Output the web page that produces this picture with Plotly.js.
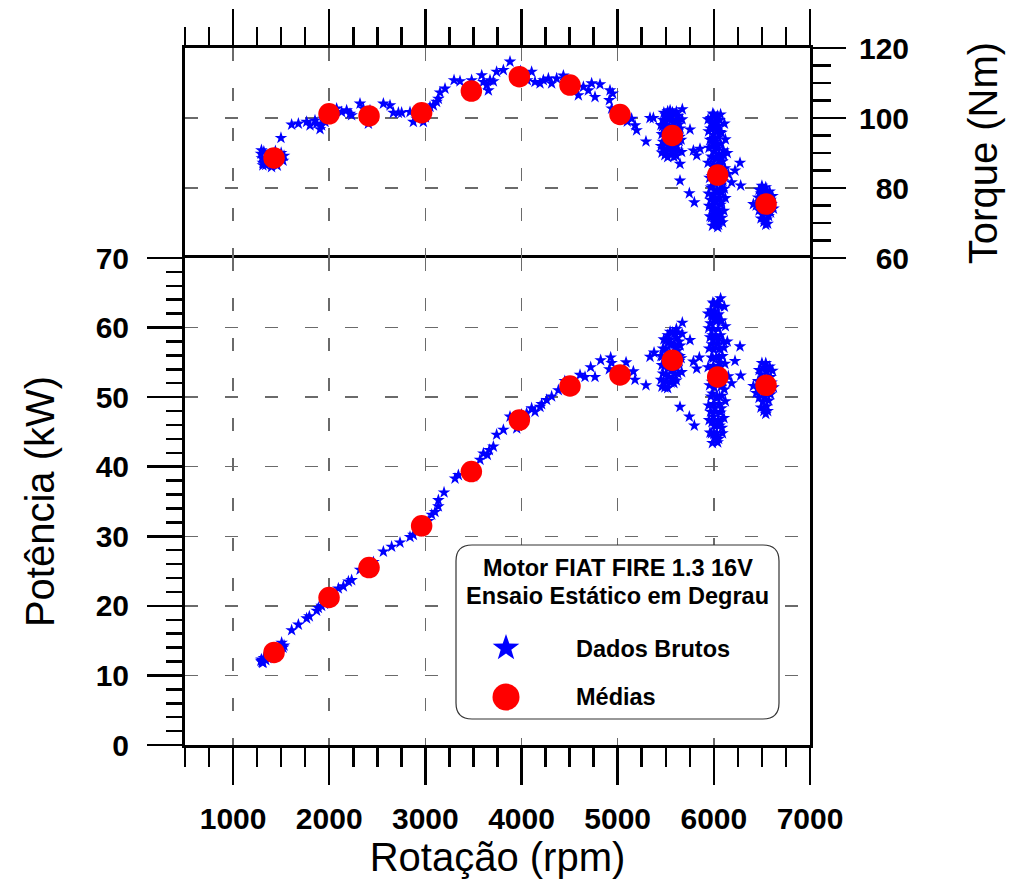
<!DOCTYPE html>
<html>
<head>
<meta charset="utf-8">
<script src="https://cdn.plot.ly/plotly-3.0.1.min.js"></script>
<style>html,body{margin:0;padding:0;background:#fff;}#chart{width:1013px;height:884px;}</style>
</head>
<body>
<div id="chart"></div>
<script>
// ---------- DATA ----------
// Raw torque samples (rpm, Nm) outside the dense high-rpm blocks
const rpmCurveT = [1290,1300,1310,1320,1340,1360,1380,1400,1420,1440,1460,1480,1500,1520,1530,1310,1295,
  1498,1609,1679,1765,1800,1852,1869,1904,1921,1956,1939,1980,2020,2077,2129,2181,2216,2233,2320,2355,2407,2424,2450,
  2563,2632,2667,2719,2753,2840,2875,2909,2940,2979,3000,3048,3083,3117,3135,3152,3204,3298,3360,3440,3481,3520,
  3586,3603,3638,3655,3672,3707,3741,3811,3880,3967,3990,4020,4060,4105,4140,4192,4227,4279,4313,4365,4435,4480,
  4530,4591,4643,4695,4729,4764,4816,4920,4948,4913,4937,4990,5060,5100,5145,5180,5197,5294,5336,5371,
  5672,5752,5648,5648,5745,5797,5787,5856,5822,6140,6220,6272,6185,6279,6150,6411];
const torqueCurve = [89.8,88.5,87.2,90.4,86.6,88.0,89.5,86.0,87.5,90.5,86.4,88.9,90.0,87.8,89.2,86.5,90.8,
  94.3,98.1,98.4,98.9,97.9,99.3,98.4,96.8,97.9,98.9,99.8,100.5,101.5,102.7,101.7,102.2,101.2,100.8,104.1,102.7,98.4,102.2,100.2,
  104.1,103.6,101.5,101.5,101.5,101.7,98.9,99.8,101.0,98.9,100.2,103.2,103.6,104.6,105.5,107.3,108.4,110.8,110.5,108.5,110.8,106.8,
  112.2,110.3,109.4,107.9,110.8,110.5,113.2,113.7,116.1,111.8,113.4,112.0,110.8,113.2,110.3,109.9,110.8,111.3,109.9,111.3,112.1,110.2,
  108.6,106.5,108.9,107.9,109.9,106.0,109.6,107.9,107.0,105.1,102.7,100.2,100.5,99.0,99.8,97.9,96.5,93.3,100.0,100.0,
  102.5,96.7,86.9,82.1,78.5,75.9,90.7,91.2,89.3,90.0,85.0,87.2,81.6,80.7,84.0,75.4];

// Raw power samples (rpm, kW) outside the dense high-rpm blocks
const rpmCurveP = [1290,1300,1310,1320,1340,1360,1380,1400,1420,1440,1460,1480,1500,1520,1530,1310,1295,
  1505,1609,1679,1765,1793,1869,1887,1921,1950,2040,2095,2147,2199,2233,2320,2380,2460,2563,2649,2736,2840,2875,2920,2990,
  3030,3066,3100,3135,3135,3194,3308,3343,3440,3500,3568,3603,3644,3665,3707,3741,3811,3880,3950,4000,
  4053,4105,4140,4192,4209,4261,4313,4383,4450,4530,4608,4660,4719,4764,4823,4927,4937,4913,4990,5087,5060,5163,5180,5294,5336,5378,
  5672,5752,5787,5822,5849,5648,5745,5797,6140,6272,6220,6279,6185,6150,6411];
const powerCurve = [12.1,11.9,11.8,12.5,12.2,12.5,12.9,12.6,13.0,13.6,13.2,13.8,14.1,14.0,14.3,11.9,12.3,
  14.7,16.5,17.3,18.2,18.5,19.3,19.7,20.0,20.3,21.6,22.5,22.8,23.5,23.7,25.2,25.0,26.3,27.8,28.5,29.1,29.9,30.2,30.7,31.0,
  32.2,33.1,33.5,34.3,35.2,36.3,38.3,38.8,39.5,38.6,41.0,41.9,41.7,42.4,42.9,44.6,45.3,47.2,45.5,47.5,
  47.7,48.4,47.9,48.6,49.0,49.6,50.1,51.0,52.3,51.5,53.2,52.9,54.3,52.9,55.3,55.7,54.9,54.0,52.8,55.0,53.0,53.7,52.5,51.7,55.8,56.4,
  60.7,58.2,55.1,54.1,55.7,48.6,47.2,45.9,58.0,57.3,55.2,53.1,52.0,53.0,51.6];

// Dense blocks of samples at ~5550, ~6030 and ~6530 rpm (rpm, Nm, kW)
const rpmBlock = [5480,5500,5520,5545,5570,5590,5610,5630,5470,5495,5525,5555,5585,5615,5640,
  5465,5490,5515,5540,5575,5600,5625,5650,5460,5485,5510,5535,5565,5595,5620,5645,
  5470,5500,5530,5560,5590,5615,5640,5475,5505,5535,5565,5595,5625,5490,5520,5555,5585,5610,5460,
  5450,5670,5660,5450,5665,5540,5580,
  5990,6040,5970,6060,6010,5985,6050,5965,6030,6080,5995,6045,5960,6015,6070,5980,6035,6000,6055,5975,
  6025,6090,5995,6045,6010,6065,5980,6040,6005,6075,5970,6030,6085,5995,6050,5965,6020,6070,5990,6045,
  6005,6060,5975,6030,6010,6050,5985,
  6025,5975,6005,6065,5985,6040,6100,5990,6060,6020,6095,5985,6060,6010,6080,5980,6035,6085,6015,
  5940,6110,5945,6120,5950,6105,5940,6115,5955,6110,5945,6120,5950,6105,5960,6090,6040,
  6000,6070,6030,5990,6055,6000,6035,5995,6065,6000,
  6500,6540,6470,6520,6580,6490,6550,6610,6460,6530,6590,6480,6545,6600,6500,6560,6620,6470,6530,6590,
  6510,6570,6490,6550,6520,6560,6540,6440];
const torqueBlock = [101.5,100.8,101.9,102.2,101.6,100.9,101.8,100.6,99.5,98.8,99.9,99.2,98.5,99.4,98.2,
  97.6,96.9,97.8,97.1,96.5,97.4,96.2,97.0,95.4,94.7,95.8,94.9,95.6,94.3,95.1,94.6,
  93.2,92.6,93.5,92.4,93.0,92.2,93.4,91.1,90.5,91.3,90.2,91.0,90.6,89.4,88.8,89.6,88.9,89.2,90.1,
  98.0,99.6,93.8,92.0,90.3,100.3,94.0,
  101.3,100.6,100.0,99.4,99.0,98.2,97.7,97.0,96.4,95.8,95.2,94.5,93.8,93.2,92.6,91.9,91.2,90.4,89.7,89.0,
  88.3,87.6,86.8,86.0,85.1,84.3,83.4,82.6,81.7,80.9,80.1,79.4,78.7,78.0,77.3,76.6,75.9,75.2,74.5,73.8,
  73.0,72.3,71.6,70.9,70.1,69.5,69.2,
  100.2,98.8,97.3,96.0,94.0,92.0,90.8,88.6,86.5,83.9,82.0,80.5,79.0,76.9,76.0,74.0,72.8,71.5,70.5,
  99.6,98.4,96.2,93.9,91.5,89.3,87.2,85.6,82.9,79.8,78.4,77.1,74.9,73.5,71.9,70.2,68.8,
  100.9,101.0,97.6,92.7,88.0,85.9,79.0,75.2,73.0,71.1,
  80.6,80.2,79.5,79.3,79.0,78.4,78.1,77.7,77.3,77.0,76.6,76.0,75.8,75.4,74.7,74.4,74.1,73.6,73.3,73.0,
  72.3,72.0,71.3,71.0,70.3,69.8,69.5,75.0];
const powerBlock = [58.3,58.1,58.9,59.4,59.3,59.1,59.8,59.3,57.0,56.9,57.8,57.7,57.6,58.5,58.0,
  55.9,55.7,56.5,56.3,56.3,57.1,56.7,57.4,54.6,54.4,55.3,55.0,55.7,55.3,56.0,55.9,
  53.4,53.3,54.2,53.8,54.4,54.2,55.2,52.2,52.2,52.9,52.6,53.3,53.4,51.4,51.3,52.1,52.0,52.4,51.5,
  55.9,59.1,55.6,52.5,53.6,58.2,54.9,
  63.6,63.6,62.5,63.1,62.3,61.6,61.9,60.6,60.9,61.0,59.8,59.8,58.6,58.7,58.9,57.6,57.6,56.8,56.9,55.7,
  55.7,55.9,54.5,54.4,53.6,53.5,52.2,52.3,51.4,51.5,50.1,50.1,50.2,49.0,49.0,47.9,47.9,47.8,46.7,46.7,
  45.9,45.9,44.8,44.8,44.1,44.0,43.4,
  63.2,61.8,61.2,61.0,58.9,58.2,58.0,55.6,54.9,52.9,52.3,50.5,50.1,48.4,48.4,46.4,46.0,45.6,44.4,
  62.0,63.0,59.9,60.2,57.0,57.1,54.3,54.8,51.7,51.1,48.8,49.4,46.7,47.0,44.9,44.8,43.5,
  63.4,64.2,61.6,58.2,55.8,54.0,49.9,47.2,46.4,44.7,
  54.9,54.9,53.9,54.2,54.4,53.3,53.6,53.8,52.3,52.7,52.9,51.6,52.0,52.1,50.9,51.1,51.4,49.9,50.1,50.4,
  49.3,49.5,48.5,48.7,48.0,48.0,47.6,50.6];

// Step means (red circles)
const meanRpm    = [1426,1998,2414,2961,3478,3977,4504,5024,5568,6040,6543];
const meanTorque = [88.6,101.2,100.6,101.5,107.7,111.8,109.4,101.0,95.0,83.7,75.4];
const meanPower  = [13.3,21.2,25.5,31.5,39.3,46.7,51.6,53.2,55.3,52.9,51.7];

const xTicks = [1000,2000,3000,4000,5000,6000,7000];
const torqueTicks = [60,80,100,120];
const legendTitle = ['Motor FIAT FIRE 1.3 16V','Ensaio Estático em Degrau'];
const legendLabels = ['Dados Brutos','Médias'];

// ---------- LAYOUT ----------
const W = 1013, H = 884, PL = 185, PR = 810, PT = 48, PB = 745, SPLIT = 258;
const px = v => (v - PL) / (PR - PL);
const py = v => (PB - v) / (PB - PT);
const split = py(SPLIT);

const FONT = 'Liberation Sans, Arial, Helvetica, sans-serif';
const tickFont = {family: FONT, size: 30, color: '#000', weight: 700};
const titleFont = {family: FONT, size: 40, color: '#000'};
const gridStyle = {showgrid: true, gridcolor: '#6a6a6a', gridwidth: 1.5, griddash: '13px,27px'};

const blue = '#0000FF', red = '#FF0000';

// right-axis labels are right-aligned in the reference: pad short ones with a figure space
const padLabel = (v, n) => { let s = String(v); while (s.length < n) s = '\u2007' + s; return s; };

const traces = [
  {x: rpmCurveP.concat(rpmBlock), y: powerCurve.concat(powerBlock), xaxis: 'x', yaxis: 'y', type: 'scatter', mode: 'markers',
   marker: {symbol: 'star', size: 9.5, color: blue, line: {width: 0}}, showlegend: false, hoverinfo: 'skip'},
  {x: rpmCurveT.concat(rpmBlock), y: torqueCurve.concat(torqueBlock), xaxis: 'x2', yaxis: 'y2', type: 'scatter', mode: 'markers',
   marker: {symbol: 'star', size: 9.5, color: blue, line: {width: 0}}, showlegend: false, hoverinfo: 'skip'},
  {x: meanRpm, y: meanPower, xaxis: 'x', yaxis: 'y', type: 'scatter', mode: 'markers',
   marker: {symbol: 'circle', size: 21.5, color: red, line: {width: 0}}, showlegend: false},
  {x: meanRpm, y: meanTorque, xaxis: 'x2', yaxis: 'y2', type: 'scatter', mode: 'markers',
   marker: {symbol: 'circle', size: 21.5, color: red, line: {width: 0}}, showlegend: false}
];

// legend box (rounded rectangle) and keys
const bx0 = 456, bx1 = 779, by0 = 545, by1 = 719, rad = 16;
const rx = rad / (PR - PL), ry = rad / (PB - PT);
const X0 = px(bx0), X1 = px(bx1), Ytop = py(by0), Ybot = py(by1);
const boxPath = `M ${X0+rx},${Ytop} L ${X1-rx},${Ytop} Q ${X1},${Ytop} ${X1},${Ytop-ry} L ${X1},${Ybot+ry} Q ${X1},${Ybot} ${X1-rx},${Ybot} L ${X0+rx},${Ybot} Q ${X0},${Ybot} ${X0},${Ybot+ry} L ${X0},${Ytop-ry} Q ${X0},${Ytop} ${X0+rx},${Ytop} Z`;

const keyX = 506, starY = 648, dotY = 697;
let starPath = '';
for (let k = 0; k < 10; k++) {
  const a = -Math.PI / 2 + k * Math.PI / 5;
  const r = (k % 2 === 0) ? 14 : 5.6;
  starPath += (k === 0 ? 'M ' : ' L ') + px(keyX + r * Math.cos(a)) + ',' + py(starY + r * Math.sin(a));
}
starPath += ' Z';

const shapes = [
  {type: 'path', xref: 'paper', yref: 'paper', path: boxPath, fillcolor: '#fff', line: {color: '#333', width: 1.2}, layer: 'above'},
  {type: 'path', xref: 'paper', yref: 'paper', path: starPath, fillcolor: blue, line: {width: 0}, layer: 'above'},
  {type: 'circle', xref: 'paper', yref: 'paper', x0: px(keyX - 13.5), x1: px(keyX + 13.5), y0: py(dotY + 13.5), y1: py(dotY - 13.5),
   fillcolor: red, line: {width: 0}, layer: 'above'}
];

const legFont = {family: FONT, size: 23.5, color: '#000', weight: 700};
const annotations = [
  {xref: 'paper', yref: 'paper', x: px(617.5), y: py(568), text: legendTitle[0], showarrow: false, xanchor: 'center', yanchor: 'middle', font: legFont},
  {xref: 'paper', yref: 'paper', x: px(617.5), y: py(596), text: legendTitle[1], showarrow: false, xanchor: 'center', yanchor: 'middle', font: legFont},
  {xref: 'paper', yref: 'paper', x: px(574), y: py(649), text: legendLabels[0], showarrow: false, xanchor: 'left', yanchor: 'middle', font: legFont},
  {xref: 'paper', yref: 'paper', x: px(574), y: py(697), text: legendLabels[1], showarrow: false, xanchor: 'left', yanchor: 'middle', font: legFont}
];

const layout = {
  width: W, height: H,
  margin: {l: PL, r: W - PR, t: PT, b: H - PB, pad: 0},
  paper_bgcolor: '#fff', plot_bgcolor: '#fff',
  showlegend: false,
  font: {family: FONT, color: '#000'},
  xaxis: Object.assign({
    domain: [0, 1], anchor: 'y', range: [500, 7000], tickmode: 'array', tickvals: xTicks, ticktext: xTicks.map(String),
    ticks: 'outside', ticklen: 37, tickwidth: 2.5, tickcolor: '#000', ticklabelstandoff: 8,
    minor: {tickmode: 'linear', tick0: 0, dtick: 250, ticks: 'outside', ticklen: 19, tickwidth: 2.5, tickcolor: '#000', showgrid: false},
    showline: true, linewidth: 3, linecolor: '#000', mirror: true, zeroline: false,
    tickfont: tickFont,
    title: {text: 'Rotação (rpm)', font: titleFont, standoff: 8}
  }, gridStyle),
  xaxis2: Object.assign({
    domain: [0, 1], anchor: 'y2', matches: 'x', side: 'top', range: [500, 7000], tickmode: 'array', tickvals: xTicks,
    showticklabels: false, ticks: 'outside', ticklen: 36, tickwidth: 2.5, tickcolor: '#000',
    minor: {tickmode: 'linear', tick0: 0, dtick: 250, ticks: 'outside', ticklen: 18, tickwidth: 2.5, tickcolor: '#000', showgrid: false},
    showline: true, linewidth: 3, linecolor: '#000', mirror: false, zeroline: false
  }, gridStyle),
  yaxis: Object.assign({
    domain: [0, split], anchor: 'x', range: [0, 70], tickmode: 'linear', tick0: 0, dtick: 10,
    ticks: 'outside', ticklen: 35, tickwidth: 2.5, tickcolor: '#000', ticklabelstandoff: 12,
    minor: {tickmode: 'linear', tick0: 0, dtick: 2, ticks: 'outside', ticklen: 16, tickwidth: 2.5, tickcolor: '#000', showgrid: false},
    showline: true, linewidth: 3, linecolor: '#000', mirror: true, zeroline: false,
    tickfont: tickFont,
    title: {text: 'Potência (kW)', font: titleFont, standoff: 29}
  }, gridStyle),
  yaxis2: Object.assign({
    domain: [split, 1], anchor: 'x2', side: 'right', range: [60, 120], tickmode: 'array',
    tickvals: torqueTicks, ticktext: torqueTicks.map(v => padLabel(v, 3)),
    ticks: 'outside', ticklen: 33, tickwidth: 2.5, tickcolor: '#000', ticklabelstandoff: 7,
    minor: {tickmode: 'linear', tick0: 60, dtick: 5, ticks: 'outside', ticklen: 18, tickwidth: 2.5, tickcolor: '#000', showgrid: false},
    showline: true, linewidth: 3, linecolor: '#000', mirror: true, zeroline: false,
    tickfont: tickFont,
    title: {text: 'Torque (Nm)', font: titleFont, standoff: 61}
  }, gridStyle),
  shapes: shapes,
  annotations: annotations
};

Plotly.newPlot('chart', traces, layout, {displayModeBar: false, staticPlot: true});
</script>
</body>
</html>
